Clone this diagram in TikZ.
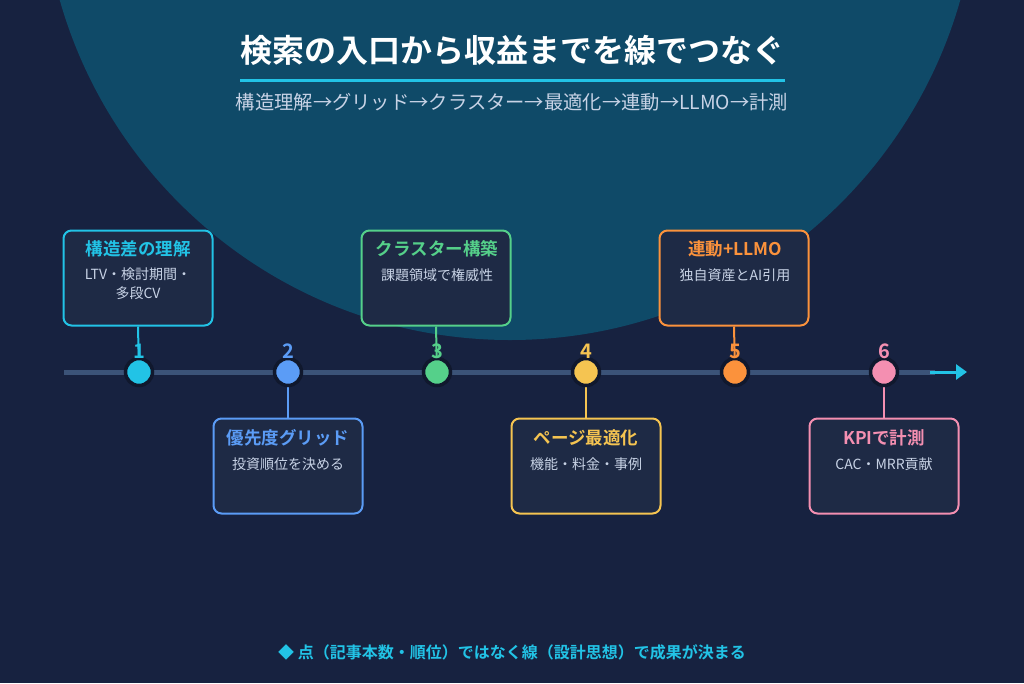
\documentclass[tikz,border=0pt]{standalone}
\usepackage{fontspec}
\setmainfont{Noto Sans CJK JP}
\newfontfamily\jpb{Noto Sans CJK JP Bold}
\usetikzlibrary{arrows.meta}
\definecolor{bg}{HTML}{172240}
\definecolor{circ}{HTML}{0F4A68}
\definecolor{boxf}{HTML}{1E2A45}
\definecolor{tl}{HTML}{3B5378}
\definecolor{cA}{HTML}{22C3E6}
\definecolor{cB}{HTML}{5B9CF6}
\definecolor{cC}{HTML}{55D08A}
\definecolor{cD}{HTML}{F5C451}
\definecolor{cE}{HTML}{FB923C}
\definecolor{cF}{HTML}{F48FB1}
\definecolor{sub}{HTML}{C8D3E6}
\begin{document}
\begin{tikzpicture}[x=1pt,y=-1pt,
 box/.style={draw=#1,line width=2pt,fill=boxf,rounded corners=8pt,minimum width=149pt,minimum height=95pt,inner sep=0pt},
 ttl/.style={text=#1,font=\jpb\fontsize{17.5}{20}\selectfont},
 dsc/.style={text=sub,font=\fontsize{14}{19}\selectfont,align=center},
 dot/.style={circle,fill=#1,draw=bg!70!black,line width=3.5pt,minimum size=27pt,inner sep=0pt},
 num/.style={text=#1,font=\jpb\fontsize{20}{22}\selectfont}]
\useasboundingbox (0,0) rectangle (1024,683);
\fill[bg] (0,0) rectangle (1024,683);
\begin{scope}
\clip (0,0) rectangle (1024,683);
\fill[circ] (510,-128) circle (468);
\end{scope}
\node[text=white,font=\jpb\fontsize{32}{36}\selectfont] (title) at (512,50) {検索の入口から収益までを線でつなぐ};
\draw[cA,line width=3pt] (240,80) -- (785,80);
\node[text=sub,font=\fontsize{19.3}{22}\selectfont] (subt) at (512,102) {構造理解→グリッド→クラスター→最適化→連動→LLMO→計測};
\draw[tl,line width=5pt] (64,372) -- (935,372);
\coordinate (ae) at (967,372);
\draw[cA,line width=3pt,-{Triangle[length=11pt,width=15pt]}] (930,372) -- (ae);
\foreach \i/\x/\c/\up in {1/139/cA/1,2/288/cB/0,3/437/cC/1,4/586/cD/0,5/735/cE/1,6/884/cF/0}{
  \ifnum\up=1
   \node[box=\c] (b\i) at (\x-1,278) {};
   \draw[\c,line width=2pt] (b\i.south) -- (\x,372);
  \else
   \node[box=\c] (b\i) at (\x,466) {};
   \draw[\c,line width=2pt] (b\i.north) -- (\x,372);
  \fi
  \node[dot=\c] (d\i) at (\x,372) {};
  \node[num=\c] (n\i) at (\x,351) {\i};
}
\node[ttl=cA] at (138,249) {構造差の理解};
\node[dsc] at (138,284) {LTV・検討期間・\\多段CV};
\node[ttl=cB] at (288,438) {優先度グリッド};
\node[dsc] at (288,464) {投資順位を決める};
\node[ttl=cC] at (437,249) {クラスター構築};
\node[dsc] at (437,275) {課題領域で権威性};
\node[ttl=cD] at (586,438) {ページ最適化};
\node[dsc] at (586,464) {機能・料金・事例};
\node[ttl=cE] at (735,249) {連動+LLMO};
\node[dsc] at (735,275) {独自資産とAI引用};
\node[ttl=cF] at (884,438) {KPIで計測};
\node[dsc] at (884,464) {CAC・MRR貢献};
\node[text=cA,font=\jpb\fontsize{16}{19}\selectfont] (foot) at (512,652) {◆ 点（記事本数・順位）ではなく線（設計思想）で成果が決まる};
\end{tikzpicture}
\end{document}
